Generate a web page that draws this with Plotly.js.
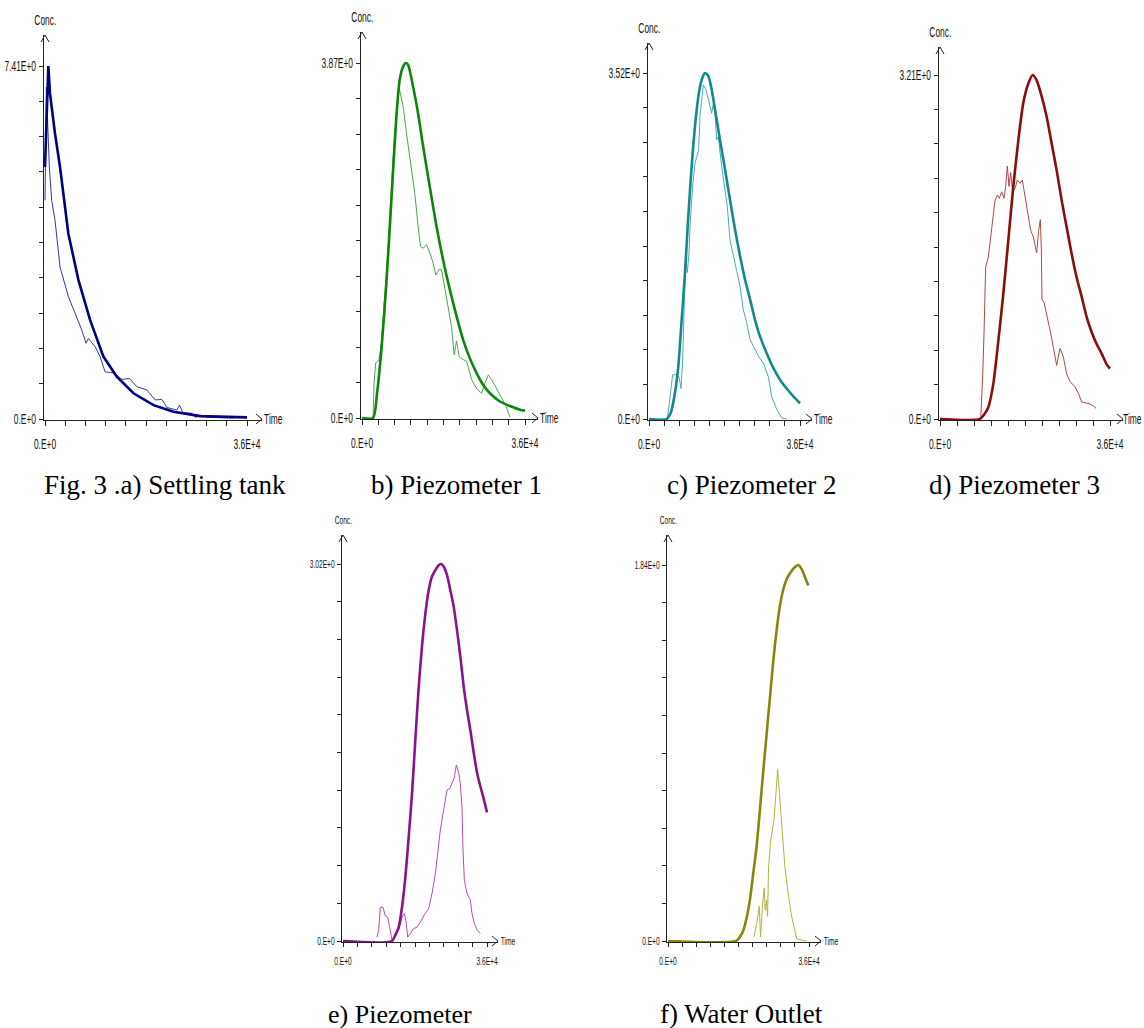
<!DOCTYPE html>
<html>
<head>
<meta charset="utf-8">
<script src="https://cdn.plot.ly/plotly-3.0.1.min.js"></script>
<style>html,body{margin:0;padding:0;background:#fff}#chart{width:1144px;height:1028px}</style>
</head>
<body>
<div id="chart"></div>
<script>
// ---------- DATA (time in s, concentration) ----------
const tMax = 36000;
const xTickLabels = ["0.E+0", "3.6E+4"];
const yTopLabels = ["7.41E+0", "3.87E+0", "3.52E+0", "3.21E+0", "3.02E+0", "1.84E+0"];
const yMaxValues = [7.41, 3.87, 3.52, 3.21, 3.02, 1.84];
const captions = ["Fig. 3 .a) Settling tank", "b) Piezometer 1", "c) Piezometer 2", "d) Piezometer 3", "e) Piezometer", "f) Water Outlet"];

// a) Settling tank
const aModelT = [0, 595, 893, 1785, 2678, 4165, 5950, 8033, 10413, 12793, 15768, 19338, 22908, 27668, 36000];
const aModelC = [5.29, 7.41, 6.83, 5.99, 5.29, 3.89, 2.92, 2.08, 1.31, 0.89, 0.54, 0.29, 0.15, 0.06, 0.035];
const aObsT = [0, 238, 774, 1190, 1785, 2678, 4165, 5355, 6545, 7319, 7735, 8925, 9818, 10710, 12198, 13685, 15054, 16363, 18148, 19635, 20825, 21718, 23503, 23979, 24574, 26180, 26775, 27668, 29155, 33618];
const aObsC = [4.59, 6.97, 5.29, 4.59, 4.17, 3.19, 2.57, 2.22, 1.87, 1.59, 1.69, 1.52, 1.31, 0.99, 0.97, 0.83, 0.85, 0.68, 0.61, 0.40, 0.41, 0.24, 0.19, 0.29, 0.13, 0.12, 0.035, 0.08, 0.035, 0.02];

// b) Piezometer 1
const bModelT = [0, 2434, 3320, 4279, 5385, 6492, 7598, 8336, 9074, 9664, 10180, 11287, 12393, 13500, 14975, 16451, 17926, 19401, 20877, 22352, 23828, 25303, 26778, 28254, 30467, 32680, 34893, 36000];
const bModelC = [0, 0, 0.27, 0.74, 1.47, 2.38, 3.29, 3.69, 3.83, 3.87, 3.85, 3.61, 3.32, 2.96, 2.52, 2.09, 1.72, 1.40, 1.11, 0.85, 0.65, 0.49, 0.36, 0.27, 0.18, 0.13, 0.09, 0.08];
const bObsT = [2434, 2656, 3025, 3762, 4279, 5016, 5754, 6861, 7598, 8188, 9074, 9812, 10918, 11656, 12393, 12910, 13500, 14237, 14975, 15713, 16303, 17041, 17557, 18295, 19032, 19770, 20360, 20877, 21467, 22205, 23090, 24197, 25303, 26410, 27147, 27885, 28623, 29729, 30836, 31795, 32680];
const bObsC = [0, 0.38, 0.60, 0.63, 0.82, 1.29, 1.84, 2.82, 3.33, 3.60, 3.40, 3.11, 2.74, 2.45, 2.09, 1.87, 1.85, 1.89, 1.80, 1.69, 1.56, 1.62, 1.62, 1.40, 1.22, 1.00, 0.69, 0.84, 0.67, 0.64, 0.62, 0.42, 0.32, 0.27, 0.38, 0.47, 0.42, 0.32, 0.22, 0.13, 0.01];

// c) Piezometer 2
const cModelT = [0, 4212, 5166, 6199, 6993, 7788, 8583, 9377, 10172, 10967, 11761, 12556, 13351, 14146, 14940, 15735, 16927, 18119, 19311, 20503, 21695, 22888, 24080, 25272, 26464, 28053, 29642, 31232, 32821, 34411, 36000];
const cModelC = [0, 0, 0.06, 0.27, 0.54, 1.01, 1.49, 2.07, 2.57, 2.98, 3.28, 3.45, 3.52, 3.49, 3.35, 3.15, 2.84, 2.54, 2.23, 1.93, 1.66, 1.42, 1.22, 1.01, 0.84, 0.67, 0.52, 0.40, 0.31, 0.23, 0.16];
const cObsT = [4371, 5007, 5642, 6596, 7152, 7629, 8026, 8424, 8821, 9139, 9536, 9775, 10411, 10967, 11364, 11841, 12159, 12556, 12953, 13589, 14146, 14940, 15338, 15735, 16133, 16530, 17325, 18119, 18675, 19311, 20106, 20901, 21695, 22490, 23285, 24080, 24874, 26066, 27258, 28450, 29245, 30437, 31629, 32821];
const cObsC = [0, 0.26, 0.45, 0.45, 0.43, 0.31, 0.60, 1.21, 1.62, 1.49, 1.69, 1.96, 2.37, 2.60, 2.67, 2.74, 3.08, 3.25, 3.40, 3.35, 3.25, 3.11, 3.21, 3.11, 2.84, 2.87, 2.57, 2.30, 2.16, 1.82, 1.65, 1.51, 1.35, 1.11, 0.98, 0.81, 0.74, 0.64, 0.57, 0.43, 0.23, 0.10, 0.01, 0];

// d) Piezometer 3
const dModelT = [0, 8471, 9318, 10236, 11294, 12353, 13412, 14471, 15529, 16588, 17647, 18706, 19624, 20471, 21530, 22588, 23647, 24706, 25765, 26824, 27882, 28941, 30000, 31059, 32118, 33176, 34235, 35294, 36000];
const dModelC = [0, 0, 0.04, 0.11, 0.33, 0.73, 1.17, 1.67, 2.17, 2.60, 2.95, 3.13, 3.21, 3.16, 3.01, 2.82, 2.57, 2.32, 2.04, 1.79, 1.54, 1.32, 1.14, 0.95, 0.81, 0.70, 0.61, 0.51, 0.47];
const dObsT = [8612, 9035, 9318, 9671, 10236, 10941, 11647, 12141, 12565, 13059, 13553, 13906, 14259, 14612, 14965, 15388, 15882, 16376, 16941, 17435, 17859, 18494, 19200, 19765, 20471, 20894, 21247, 21459, 21600, 22024, 22588, 23294, 24000, 24706, 25412, 26118, 26824, 27529, 28588, 29294, 30000, 30706, 31765, 32471, 33035];
const dObsC = [0, 0.39, 0.80, 1.42, 1.51, 1.79, 2.04, 2.09, 2.06, 2.12, 2.06, 2.17, 2.36, 2.17, 2.30, 2.12, 2.15, 2.23, 2.20, 2.23, 2.11, 1.95, 1.76, 1.70, 1.55, 1.76, 1.86, 1.58, 1.11, 1.09, 0.98, 0.83, 0.67, 0.50, 0.66, 0.58, 0.42, 0.35, 0.30, 0.24, 0.16, 0.15, 0.14, 0.12, 0.10];

// e) Piezometer
const eModelT = [0, 12250, 13083, 13917, 14750, 15583, 16417, 17250, 18083, 18917, 19750, 20583, 21417, 22250, 23083, 23917, 24500, 25167, 26000, 26833, 27667, 28500, 29333, 30167, 31000, 31833, 32667, 33500, 34333, 35167, 36000];
const eModelC = [0, 0, 0.05, 0.11, 0.27, 0.51, 0.83, 1.18, 1.61, 2.03, 2.36, 2.62, 2.81, 2.92, 2.97, 3.01, 3.02, 3.00, 2.93, 2.81, 2.68, 2.49, 2.28, 2.04, 1.85, 1.69, 1.51, 1.35, 1.24, 1.14, 1.03];
const eObsT = [8500, 8917, 9333, 10000, 10583, 11167, 11667, 12250, 13083, 13917, 14750, 15333, 15833, 16167, 16833, 17667, 18500, 19333, 20333, 21417, 22250, 23083, 23667, 24333, 25167, 26000, 26667, 27250, 27833, 28333, 28917, 29333, 29750, 30000, 30333, 31000, 31833, 32250, 32833, 33500, 34333];
const eObsC = [0.03, 0.09, 0.27, 0.27, 0.20, 0.19, 0.11, 0.01, 0.03, 0.09, 0.19, 0.22, 0.14, 0.03, 0.06, 0.10, 0.11, 0.15, 0.21, 0.26, 0.38, 0.54, 0.70, 0.89, 1.05, 1.21, 1.22, 1.26, 1.31, 1.41, 1.35, 1.26, 1.07, 0.73, 0.49, 0.38, 0.33, 0.22, 0.14, 0.09, 0.06];

// f) Water Outlet
const fModelT = [0, 17318, 18341, 19195, 20048, 20901, 21754, 22607, 23460, 24313, 25166, 26020, 26873, 27726, 28579, 29432, 30285, 31138, 32418, 33271, 34124, 34977, 35830];
const fModelC = [0, 0, 0.02, 0.05, 0.11, 0.20, 0.33, 0.46, 0.64, 0.83, 1.01, 1.19, 1.37, 1.52, 1.64, 1.72, 1.77, 1.80, 1.83, 1.84, 1.82, 1.78, 1.74];
const fObsT = [21925, 22607, 23290, 23631, 24143, 24569, 24825, 25166, 25422, 25678, 26190, 27043, 27555, 27982, 28579, 29261, 29858, 30712, 31565, 32162, 32844, 35404];
const fObsC = [0.02, 0.08, 0.17, 0.02, 0.18, 0.26, 0.15, 0.20, 0.12, 0.36, 0.49, 0.59, 0.72, 0.84, 0.69, 0.52, 0.36, 0.23, 0.12, 0.07, 0.01, 0];

const seriesT = [[aModelT, aObsT], [bModelT, bObsT], [cModelT, cObsT], [dModelT, dObsT], [eModelT, eObsT], [fModelT, fObsT]];
const seriesC = [[aModelC, aObsC], [bModelC, bObsC], [cModelC, cObsC], [dModelC, dObsC], [eModelC, eObsC], [fModelC, fObsC]];

// ---------- LAYOUT (pixel geometry of each panel) ----------
const W = 1144, H = 1028;
// x0: y-axis px, x36: px of 3.6E+4, xa: arrow tip px, y0: zero px, yTop: px of max, ya: arrow top px
const panels = [
  {x0: 45,  x36: 247, xa: 262,  y0: 419, yTop: 66,  ya: 35,  fs: 14, tl: 5, so: 6, tOff: 11, cap: [165, 485], cs: 27, thick: "#000080", thin: "#3535a8", spline: false},
  {x0: 362, x36: 525, xa: 538,  y0: 418, yTop: 63,  ya: 32,  fs: 14, tl: 5, so: 6, tOff: 11, cap: [456, 485], cs: 27, thick: "#0a870a", thin: "#4aa84a", spline: true},
  {x0: 649, x36: 800, xa: 812,  y0: 419, yTop: 73,  ya: 43,  fs: 14, tl: 5, so: 6, tOff: 11, cap: [752, 485], cs: 27, thick: "#138a8a", thin: "#4aacac", spline: true},
  {x0: 940, x36: 1110, xa: 1123, y0: 419, yTop: 75,  ya: 47,  fs: 14, tl: 5, so: 6, tOff: 9, cap: [1014, 485], cs: 27, thick: "#8a0c0c", thin: "#b04848", spline: true},
  {x0: 343, x36: 487, xa: 498,  y0: 941, yTop: 564, ya: 535, fs: 11, tl: 4, so: 5, tOff: 10, cap: [400, 1014], cs: 26, thick: "#8c128c", thin: "#b050b0", spline: true},
  {x0: 668, x36: 809, xa: 821,  y0: 941, yTop: 565, ya: 535, fs: 11, tl: 4, so: 5, tOff: 10, cap: [741, 1014], cs: 27, thick: "#86860c", thin: "#b4b440", spline: true}
];

const px = v => v / W;
const py = v => 1 - v / H;
const tickFont = "'Liberation Sans', Arial, sans-serif";
const axisColor = "#222";
const squeezeFactor = 0.6;

const data = [];
const layout = {
  width: W, height: H,
  margin: {l: 0, r: 0, t: 0, b: 0},
  paper_bgcolor: "#fff", plot_bgcolor: "rgba(0,0,0,0)",
  showlegend: false,
  annotations: [], shapes: []
};

panels.forEach((p, i) => {
  const n = i === 0 ? "" : String(i + 1);
  const xa = "x" + n, ya = "y" + n;
  const xPerPx = tMax / (p.x36 - p.x0);
  const yPerPx = yMaxValues[i] / (p.y0 - p.yTop);

  const xTicks = [], xText = [];
  for (let k = 0; k <= 10; k++) { xTicks.push(tMax * k / 10); xText.push(k === 0 ? xTickLabels[0] : (k === 10 ? xTickLabels[1] : "")); }
  const yTicks = [], yText = [];
  for (let k = 0; k <= 10; k++) { yTicks.push(yMaxValues[i] * k / 10); yText.push(k === 0 ? "0.E+0" : (k === 10 ? yTopLabels[i] : "")); }

  layout["xaxis" + n] = {
    domain: [px(p.x0 - 1), px(p.xa)], anchor: ya, range: [-xPerPx, (p.xa - p.x0) * xPerPx],
    showgrid: false, zeroline: false, showline: true, linecolor: axisColor, linewidth: 1.2,
    layer: "below traces",
    ticks: "outside", ticklen: p.tl, tickwidth: 1, tickcolor: axisColor,
    tickvals: xTicks, ticktext: xText, tickangle: 0, ticklabelstandoff: p.so,
    tickfont: {family: tickFont, size: p.fs, color: "#111"}, fixedrange: true
  };
  layout["yaxis" + n] = {
    domain: [py(p.y0 + 1), py(p.ya)], anchor: xa, range: [-yPerPx, (p.y0 - p.ya) * yPerPx],
    showgrid: false, zeroline: false, showline: true, linecolor: axisColor, linewidth: 1.2,
    layer: "below traces",
    ticks: "outside", ticklen: 4, tickwidth: 1, tickcolor: axisColor,
    tickvals: yTicks, ticktext: yText, ticklabelstandoff: 0,
    tickfont: {family: tickFont, size: p.fs, color: "#111"}, fixedrange: true
  };

  // observed (thin) then model (thick)
  data.push({type: "scatter", mode: "lines", x: seriesT[i][1], y: seriesC[i][1], xaxis: xa, yaxis: ya,
    line: {color: p.thin, width: 1}, hoverinfo: "skip"});
  data.push({type: "scatter", mode: "lines", x: seriesT[i][0], y: seriesC[i][0], xaxis: xa, yaxis: ya,
    line: {color: p.thick, width: 2.6, shape: p.spline ? "spline" : "linear", smoothing: 0.7}, hoverinfo: "skip"});

  // arrows at axis ends
  layout.shapes.push({type: "path", xref: "paper", yref: "paper",
    path: `M ${px(p.xa - 6)} ${py(p.y0 - 5)} L ${px(p.xa)} ${py(p.y0)} L ${px(p.xa - 6)} ${py(p.y0 + 5)}`,
    line: {color: axisColor, width: 1}});
  layout.shapes.push({type: "path", xref: "paper", yref: "paper",
    path: `M ${px(p.x0 - 4)} ${py(p.ya + 7)} L ${px(p.x0)} ${py(p.ya)} L ${px(p.x0 + 4)} ${py(p.ya + 7)}`,
    line: {color: axisColor, width: 1}});

  layout.annotations.push({xref: "paper", yref: "paper", x: px(p.x0), y: py(p.ya - 15), xanchor: "center", yanchor: "middle",
    text: "Conc.", showarrow: false, font: {family: tickFont, size: p.fs, color: "#111"}});
  layout.annotations.push({xref: "paper", yref: "paper", x: px(p.xa + p.tOff), y: py(p.y0), xanchor: "center", yanchor: "middle",
    text: "Time", showarrow: false, font: {family: tickFont, size: p.fs, color: "#111"}});
  layout.annotations.push({xref: "paper", yref: "paper", x: px(p.cap[0]), y: py(p.cap[1]), xanchor: "center", yanchor: "middle",
    text: captions[i], showarrow: false, font: {family: "'Liberation Serif', 'Times New Roman', serif", size: p.cs, color: "#000"}});
});

// condense the small axis texts (the original uses a very narrow bitmap font)
function squeezeAll() {
  const gd = document.getElementById("chart");
  const squeeze = t => {
    if (!t.textContent) return;
    if (!t.dataset.natural || t.dataset.txt !== t.textContent) {
      t.removeAttribute("textLength");
      t.dataset.natural = String(t.getComputedTextLength());
      t.dataset.txt = t.textContent;
    }
    const len = parseFloat(t.dataset.natural);
    if (len > 0) {
      t.setAttribute("textLength", (len * squeezeFactor).toFixed(2));
      t.setAttribute("lengthAdjust", "spacingAndGlyphs");
    }
  };
  gd.querySelectorAll("text").forEach(t => {
    const inAxis = t.closest('[class*="axislayer"]');
    const isSmallNote = t.textContent === "Conc." || t.textContent === "Time";
    if (inAxis || isSmallNote) squeeze(t);
  });
}

Plotly.newPlot("chart", data, layout, {staticPlot: true, displayModeBar: false}).then(gd => {
  squeezeAll();
  gd.on && gd.on("plotly_afterplot", squeezeAll);
  [0, 50, 150, 400, 800].forEach(ms => setTimeout(squeezeAll, ms));
});
</script>
</body>
</html>
